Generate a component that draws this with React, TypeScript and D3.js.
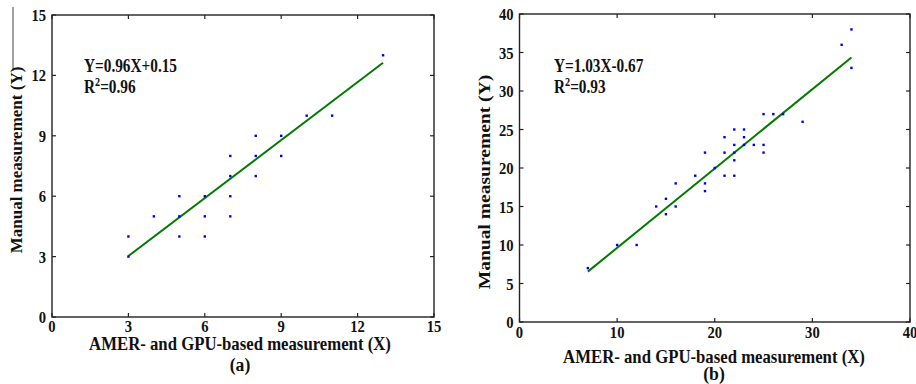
import React from "react";
import * as d3 from "d3";

// Panel (a) data
const aX = [3, 3, 4, 5, 5, 5, 6, 6, 6, 7, 7, 7, 7, 8, 8, 8, 9, 9, 10, 11, 13];
const aY = [3, 4, 5, 6, 5, 4, 6, 5, 4, 8, 7, 6, 5, 9, 8, 7, 9, 8, 10, 10, 13];
const aTicks = [0, 3, 6, 9, 12, 15];
const aFit = { slope: 0.96, intercept: 0.15, from: 3, to: 13 };
const aEq = ["Y=0.96X+0.15", "0.96"];

// Panel (b) data
const bX = [7, 10, 12, 14, 15, 15, 16, 16, 18, 19, 19, 19, 20, 21, 21, 21, 22, 22, 22, 22, 22, 23, 23, 23, 24, 25, 25, 25, 26, 27, 29, 33, 34, 34];
const bY = [7, 10, 10, 15, 16, 14, 18, 15, 19, 22, 18, 17, 20, 24, 22, 19, 25, 23, 22, 21, 19, 25, 24, 23, 23, 27, 23, 22, 27, 27, 26, 36, 38, 33];
const bXTicks = [0, 10, 20, 30, 40];
const bYTicks = [0, 5, 10, 15, 20, 25, 30, 35, 40];
const bFit = { slope: 1.03, intercept: -0.67, from: 7, to: 34 };
const bEq = ["Y=1.03X-0.67", "0.93"];

const xLabel = "AMER- and GPU-based measurement (X)";
const yLabel = "Manual measurement (Y)";

const FONT = "'Liberation Serif', 'Times New Roman', serif";

function Txt({ x, y, anchor = "start", rot = 0, size = 17, sx = 0.86, children }: any) {
  return (
    <text
      transform={`translate(${x},${y}) rotate(${rot}) scale(${sx},1)`}
      textAnchor={anchor}
      fontFamily={FONT}
      fontWeight="bold"
      fontSize={size}
      fill="#111"
    >
      {children}
    </text>
  );
}

function Panel({ xs, ys, xDomain, yDomain, xRange, yRange, xTicks, yTicks, fit, eq, eqPos, xLab, capY, yLab, ySx, caption, tickBase }: any) {
  const x = d3.scaleLinear().domain(xDomain).range(xRange);
  const y = d3.scaleLinear().domain(yDomain).range(yRange);
  const [x0, x1] = xRange;
  const [y0, y1] = yRange; // y0 bottom, y1 top
  const tl = 4;
  const line = d3.line<number>().x((d) => x(d)).y((d) => y(fit.slope * d + fit.intercept));
  return (
    <g>
      <rect x={x0} y={y1} width={x1 - x0} height={y0 - y1} fill="white" stroke="#222" strokeWidth={1.4} />
      {xTicks.map((t: number) => (
        <g key={"xt" + t}>
          <line x1={x(t)} x2={x(t)} y1={y0} y2={y0 - tl} stroke="#222" strokeWidth={1.2} />
          <line x1={x(t)} x2={x(t)} y1={y1} y2={y1 + tl} stroke="#222" strokeWidth={1.2} />
          <Txt x={x(t)} y={tickBase} anchor="middle">{t}</Txt>
        </g>
      ))}
      {yTicks.map((t: number) => (
        <g key={"yt" + t}>
          <line x1={x0} x2={x0 + tl} y1={y(t)} y2={y(t)} stroke="#222" strokeWidth={1.2} />
          <line x1={x1} x2={x1 - tl} y1={y(t)} y2={y(t)} stroke="#222" strokeWidth={1.2} />
          <Txt x={x0 - 6} y={y(t) + 6} anchor="end">{t}</Txt>
        </g>
      ))}
      <path d={line([fit.from, fit.to]) || ""} stroke="#007a00" strokeWidth={2} fill="none" />
      {xs.map((v: number, i: number) => (
        <rect key={i} x={x(v) - 1.2} y={y(ys[i]) - 1.2} width={2.4} height={2.4} fill="#0000ee" />
      ))}
      <Txt x={eqPos[0]} y={eqPos[1]} size={18} sx={0.85}>{eq[0]}</Txt>
      <Txt x={eqPos[0]} y={eqPos[1] + 21} size={18} sx={0.85}>
        R<tspan fontSize={12} dy={-7}>2</tspan>
        <tspan dy={7}>={eq[1]}</tspan>
      </Txt>
      <Txt x={xLab[0]} y={xLab[1]} anchor="middle" size={18} sx={0.93}>{xLabel}</Txt>
      <Txt x={xLab[0]} y={capY} anchor="middle" size={19} sx={0.93}>{caption}</Txt>
      <Txt x={yLab[0]} y={yLab[1]} anchor="middle" rot={-90} size={17} sx={ySx}>{yLabel}</Txt>
    </g>
  );
}

export default function App() {
  return (
    <svg width={916} height={384} style={{ position: "absolute", left: 0, top: 0, background: "white" }}>
      <rect x={0} y={0} width={916} height={384} fill="white" />
      <line x1={13} x2={13} y1={7} y2={71} stroke="#444" strokeWidth={1} />
      <Panel
        xs={aX}
        ys={aY}
        xDomain={[0, 15]}
        yDomain={[0, 15]}
        xRange={[52, 434]}
        yRange={[317, 15]}
        xTicks={aTicks}
        yTicks={aTicks}
        fit={aFit}
        eq={aEq}
        eqPos={[84, 72]}
        xLab={[240, 350]}
        capY={371}
        yLab={[22, 160]}
        ySx={1.0}
        caption="(a)"
        tickBase={332}
      />
      <Panel
        xs={bX}
        ys={bY}
        xDomain={[0, 40]}
        yDomain={[0, 40]}
        xRange={[519.5, 910]}
        yRange={[322, 14]}
        xTicks={bXTicks}
        yTicks={bYTicks}
        fit={bFit}
        eq={bEq}
        eqPos={[554, 72]}
        xLab={[714, 363]}
        capY={380}
        yLab={[490, 182]}
        ySx={1.15}
        caption="(b)"
        tickBase={338}
      />
    </svg>
  );
}
